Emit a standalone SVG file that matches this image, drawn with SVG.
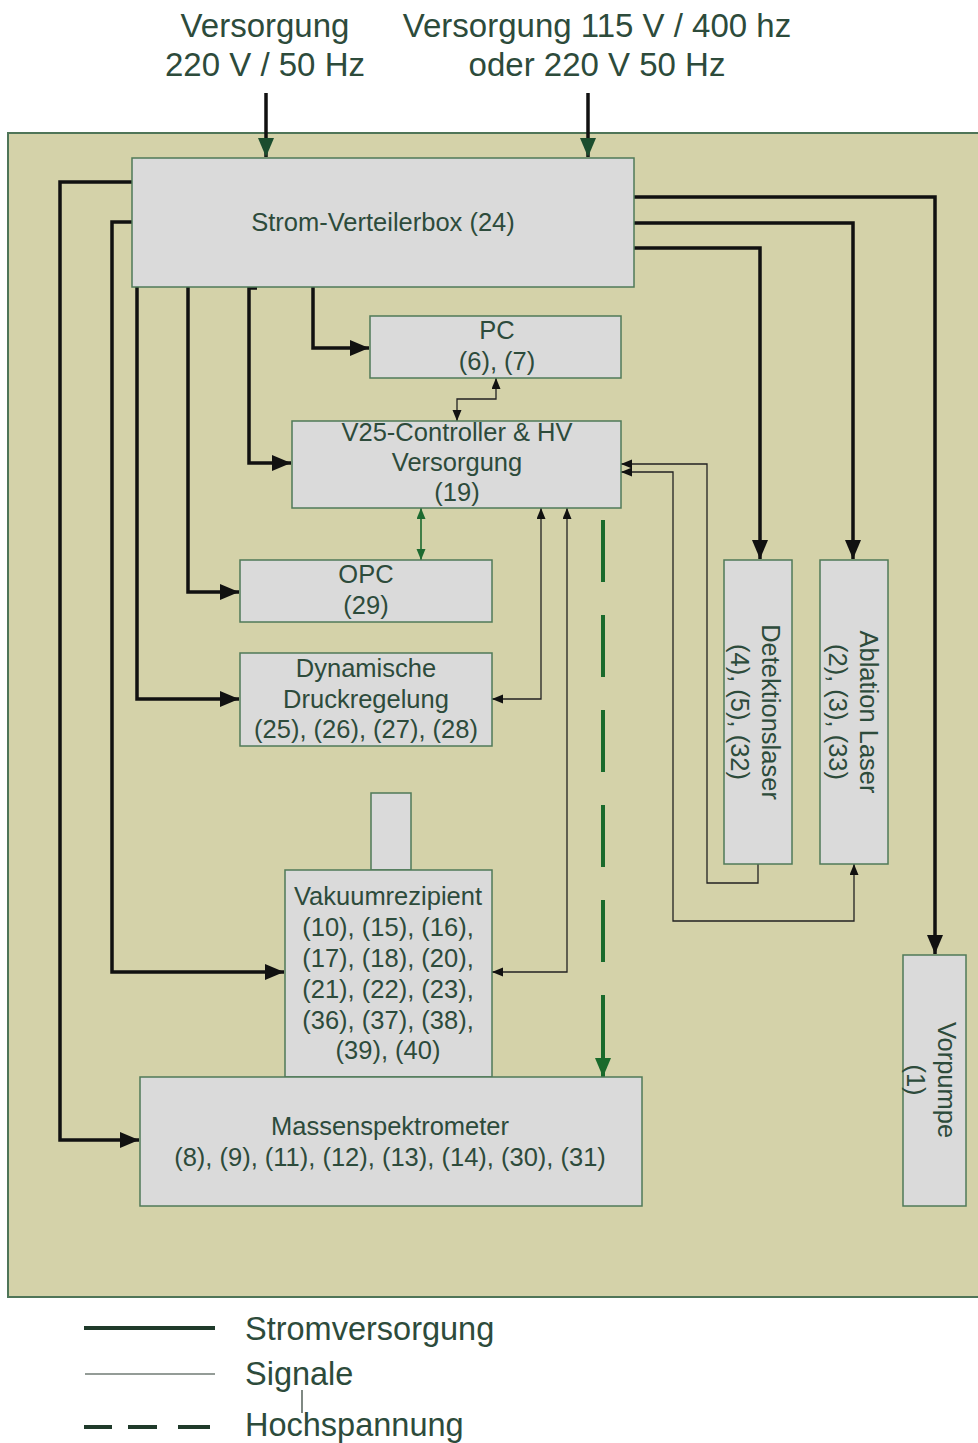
<svg xmlns="http://www.w3.org/2000/svg" width="978" height="1443" viewBox="0 0 978 1443">
<style>
text{font-family:"Liberation Sans",Arial,sans-serif;fill:#2d4b3b}
.t{font-size:25.5px;text-anchor:middle}
.big{font-size:33px}
.lg{font-size:32.5px}
.box{fill:#dadada;stroke:#4f7a58;stroke-width:1.5}
.pw{fill:none;stroke:#111;stroke-width:3.5}
.sg{fill:none;stroke:#222;stroke-width:1.3}
.gn{fill:none;stroke:#1d6a30;stroke-width:1.6}
.hv{fill:none;stroke:#1a6a2c;stroke-width:4}
</style>
<defs>
<marker id="ap" markerUnits="userSpaceOnUse" markerWidth="20" markerHeight="18" refX="19" refY="8" orient="auto-start-reverse"><path d="M0,0 L19,8 L0,16 z" fill="#111"/></marker>
<marker id="ag" markerUnits="userSpaceOnUse" markerWidth="20" markerHeight="18" refX="19" refY="8" orient="auto-start-reverse"><path d="M0,0 L19,8 L0,16 z" fill="#1b4d2e"/></marker>
<marker id="as" markerUnits="userSpaceOnUse" markerWidth="12" markerHeight="10" refX="11" refY="4.5" orient="auto-start-reverse"><path d="M0,0 L11,4.5 L0,9 z" fill="#111"/></marker>
<marker id="asg" markerUnits="userSpaceOnUse" markerWidth="12" markerHeight="10" refX="11" refY="4.5" orient="auto-start-reverse"><path d="M0,0 L11,4.5 L0,9 z" fill="#1d6a30"/></marker>
<marker id="ahv" markerUnits="userSpaceOnUse" markerWidth="20" markerHeight="18" refX="19" refY="8" orient="auto"><path d="M0,0 L19,8 L0,16 z" fill="#1a6a2c"/></marker>
</defs>

<g id="header">
<text class="t big" x="265" y="37">Versorgung</text>
<text class="t big" x="265" y="76">220 V / 50 Hz</text>
<text class="t big" x="597" y="37">Versorgung 115 V / 400 hz</text>
<text class="t big" x="597" y="76">oder 220 V 50 Hz</text>
</g>

<rect id="panel" x="8" y="133" width="980" height="1164" fill="#d4d2a9" stroke="#4f7558" stroke-width="2"/>

<g id="connectors">
<path class="pw" d="M266,93 V157" stroke="#1b4d2e" marker-end="url(#ag)"/>
<path class="pw" d="M588,93 V157" stroke="#1b4d2e" marker-end="url(#ag)"/>
<path class="pw" d="M132,182 H60 V1140 H139" marker-end="url(#ap)"/>
<path class="pw" d="M132,222 H112 V972 H284" marker-end="url(#ap)"/>
<path class="pw" d="M137,287 V699 H239" marker-end="url(#ap)"/>
<path class="pw" d="M188,287 V592 H239" marker-end="url(#ap)"/>
<path class="pw" d="M257,288 H249 V463 H291" marker-end="url(#ap)"/>
<path class="pw" d="M313,287 V348 H369" marker-end="url(#ap)"/>
<path class="pw" d="M634,197 H935 V954" marker-end="url(#ap)"/>
<path class="pw" d="M634,223 H853 V559" marker-end="url(#ap)"/>
<path class="pw" d="M634,248 H760 V559" marker-end="url(#ap)"/>
<path class="sg" d="M457,421 V399 H496 V378" marker-start="url(#as)" marker-end="url(#as)"/>
<path class="sg" d="M541,508 V699 H492" marker-start="url(#as)" marker-end="url(#as)"/>
<path class="sg" d="M567,508 V972 H492" marker-start="url(#as)" marker-end="url(#as)"/>
<path class="sg" d="M621,464 H707 V883 H758 V864" marker-start="url(#as)"/>
<path class="sg" d="M621,472 H673 V921 H854 V864" marker-start="url(#as)" marker-end="url(#as)"/>
<path class="gn" d="M421,508 V560" marker-start="url(#asg)" marker-end="url(#asg)"/>
<path class="hv" d="M603,520 V962" stroke-dasharray="62 33"/>
<path class="hv" d="M603,995 V1077" marker-end="url(#ahv)"/>
</g>

<g id="strom">
<rect class="box" x="132" y="158" width="502" height="129"/>
<text class="t" x="383" y="231">Strom-Verteilerbox (24)</text>
</g>
<g id="pc">
<rect class="box" x="370" y="316" width="251" height="62"/>
<text class="t" x="497" y="339">PC</text>
<text class="t" x="497" y="370">(6), (7)</text>
</g>
<g id="v25">
<rect class="box" x="292" y="421" width="329" height="87"/>
<text class="t" x="457" y="441">V25-Controller &amp; HV</text>
<text class="t" x="457" y="471">Versorgung</text>
<text class="t" x="457" y="501">(19)</text>
</g>
<g id="opc">
<rect class="box" x="240" y="560" width="252" height="62"/>
<text class="t" x="366" y="583">OPC</text>
<text class="t" x="366" y="614">(29)</text>
</g>
<g id="druck">
<rect class="box" x="240" y="653" width="252" height="93"/>
<text class="t" x="366" y="677">Dynamische</text>
<text class="t" x="366" y="708">Druckregelung</text>
<text class="t" x="366" y="738">(25), (26), (27), (28)</text>
</g>
<g id="detektion">
<rect class="box" x="724" y="560" width="68" height="304"/>
<g transform="translate(758,712) rotate(90)">
<text class="t" x="0" y="-4">Detektionslaser</text>
<text class="t" x="0" y="27">(4), (5), (32)</text>
</g>
</g>
<g id="ablation">
<rect class="box" x="820" y="560" width="68" height="304"/>
<g transform="translate(854,712) rotate(90)">
<text class="t" x="0" y="-6">Ablation Laser</text>
<text class="t" x="0" y="25">(2), (3), (33)</text>
</g>
</g>
<g id="vakuum">
<rect class="box" x="371" y="793" width="40" height="77"/>
<rect class="box" x="285" y="870" width="207" height="207"/>
<text class="t" x="388" y="905">Vakuumrezipient</text>
<text class="t" x="388" y="936">(10), (15), (16),</text>
<text class="t" x="388" y="967">(17), (18), (20),</text>
<text class="t" x="388" y="998">(21), (22), (23),</text>
<text class="t" x="388" y="1029">(36), (37), (38),</text>
<text class="t" x="388" y="1059">(39), (40)</text>
</g>
<g id="massen">
<rect class="box" x="140" y="1077" width="502" height="129"/>
<text class="t" x="390" y="1135">Massenspektrometer</text>
<text class="t" x="390" y="1166">(8), (9), (11), (12), (13), (14), (30), (31)</text>
</g>
<g id="vorpumpe">
<rect class="box" x="903" y="955" width="63" height="251"/>
<g transform="translate(934.5,1080) rotate(90)">
<text class="t" x="0" y="-3">Vorpumpe</text>
<text class="t" x="0" y="28">(1)</text>
</g>
</g>

<g id="legend">
<path d="M84,1328 H215" stroke="#1f3a2a" stroke-width="4" fill="none"/>
<path d="M85,1374 H215" stroke="#2a3a30" stroke-width="1.2" fill="none"/>
<path d="M84,1427 H112 M128,1427 H157 M178,1427 H210" stroke="#1f3a2a" stroke-width="4" fill="none"/>
<path d="M302,1390 V1413" stroke="#2a3a30" stroke-width="1.2" fill="none"/>
<text class="lg" x="245" y="1340">Stromversorgung</text>
<text class="lg" x="245" y="1385">Signale</text>
<text class="lg" x="245" y="1436">Hochspannung</text>
</g>
</svg>
